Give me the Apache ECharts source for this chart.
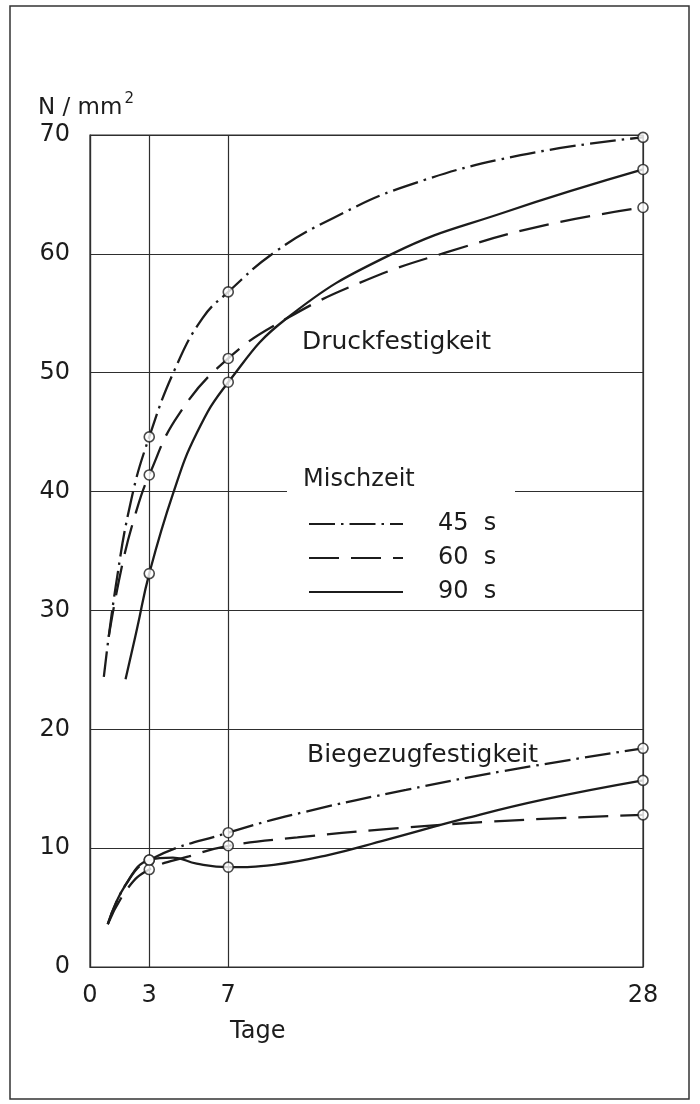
<!DOCTYPE html>
<html>
<head>
<meta charset="utf-8">
<title>Druck- und Biegezugfestigkeit</title>
<script src="https://cdn.jsdelivr.net/npm/echarts@6/dist/echarts.min.js"></script>
<style>
    html, body { margin: 0; padding: 0; background: #fff; }
    #chart { width: 700px; height: 1104px; }
</style>
</head>
<body>
<div id="chart"></div>
<script>
'use strict';

// Mischzeit = Legende
var mischzeit = ['45 s', '60 s', '90 s'];

// Achsen
var tageTicks = [0, 3, 7, 28];
var yTicks = [0, 10, 20, 30, 40, 50, 60, 70];

// Prüftage mit Messpunkt (Kreis)
var tage = [3, 7, 28];

// Druckfestigkeit N/mm2 an den Prüftagen
var druck45 = [44.6, 56.8, 69.8];
var druck60 = [41.4, 51.2, 63.9];
var druck90 = [33.1, 49.2, 67.1];

// Biegezugfestigkeit N/mm2 an den Prüftagen
var biege45 = [9.0, 11.3, 18.4];
var biege60 = [8.2, 10.2, 12.8];
var biege90 = [9.0, 8.4, 15.7];

var druck45Kurve = [[0.7, 24.4], [1.3, 32.0], [2.1, 39.4], [3, 44.6], [4.3, 50.3],
    [5.7, 54.6], [7, 56.8], [9.4, 60.2], [12.3, 63.0], [16, 65.7], [21.8, 68.3], [28, 69.8]];
var druck60Kurve = [[0.95, 27.8], [1.6, 33.6], [2.3, 38.1], [3, 41.4], [4.5, 46.5],
    [7, 51.2], [10, 54.6], [14, 57.8], [18, 60.1], [23, 62.4], [28, 63.9]];
var druck90Kurve = [[1.8, 24.2], [2.4, 28.6], [3, 33.1], [4.2, 39.8], [5.4, 44.9],
    [7, 49.2], [9.9, 54.5], [15.3, 60.0], [21, 63.5], [28, 67.1]];

var biege45Kurve = [[0.9, 3.6], [1.8, 6.9], [3, 9.0], [7, 11.3], [11, 13.1],
    [16, 14.9], [21, 16.5], [28, 18.4]];
var biege60Kurve = [[0.9, 3.6], [1.9, 6.6], [3, 8.2], [5, 9.3], [7, 10.2],
    [10.5, 10.9], [15, 11.6], [21, 12.3], [28, 12.8]];
var biege90Kurve = [[0.9, 3.6], [1.8, 6.9], [3, 9.0], [4.2, 9.2], [5.4, 8.7],
    [7, 8.4], [9.3, 8.6], [12, 9.4], [15, 10.7], [19, 12.5], [23, 14.1], [28, 15.7]];

var schwarz = '#1c1c1c';
var gitter = '#2e2e2e';
var schrift = 'DejaVu Sans';

// Strichart je Mischzeit
var strich = {
    '45 s': [26, 6, 2.5, 6],
    '60 s': [30, 12],
    '90 s': 'solid'
};

function kurve(name, punkte) {
    return {
        type: 'line',
        name: name,
        data: punkte,
        smooth: 0.45,
        symbol: 'none',
        silent: true,
        itemStyle: { color: schwarz },
        lineStyle: { color: schwarz, width: 2.3, type: strich[name] },
        z: 2
    };
}

function messpunkte(werte) {
    return {
        type: 'scatter',
        name: 'Messwert',
        data: tage.map(function (t, i) { return [t, werte[i]]; }),
        symbol: 'circle',
        symbolSize: 10,
        silent: true,
        itemStyle: { color: '#fff', borderColor: schwarz, borderWidth: 1.6 },
        z: 3
    };
}

function text(str, x, y, size) {
    return {
        type: 'text',
        x: x,
        y: y,
        z: 10,
        style: {
            text: str,
            fill: schwarz,
            font: size + 'px "' + schrift + '"',
            textVerticalAlign: 'middle'
        }
    };
}

var myChart = echarts.init(document.getElementById('chart'), null, { renderer: 'canvas' });

myChart.setOption({
    backgroundColor: '#fff',
    animation: false,
    grid: {
        left: 90,
        top: 135,
        width: 553,
        height: 832,
        show: true,
        borderColor: gitter,
        borderWidth: 1.2
    },
    xAxis: {
        type: 'value',
        min: tageTicks[0],
        max: tageTicks[tageTicks.length - 1],
        axisLine: { show: true, lineStyle: { color: gitter, width: 1.2 } },
        axisTick: { show: false, customValues: tageTicks },
        axisLabel: {
            customValues: tageTicks,
            margin: 17,
            fontSize: 24,
            fontFamily: schrift,
            color: schwarz
        },
        splitLine: { show: true, lineStyle: { color: gitter, width: 1.2 } }
    },
    yAxis: {
        type: 'value',
        min: yTicks[0],
        max: yTicks[yTicks.length - 1],
        interval: yTicks[1] - yTicks[0],
        axisLine: { show: true, lineStyle: { color: gitter, width: 1.2 } },
        axisTick: { show: false },
        axisLabel: {
            margin: 20,
            fontSize: 24,
            fontFamily: schrift,
            color: schwarz
        },
        splitLine: { show: true, lineStyle: { color: gitter, width: 1.2 } }
    },
    legend: {
        data: mischzeit,
        orient: 'vertical',
        left: 303,
        top: 507,
        itemWidth: 94,
        itemHeight: 14,
        itemGap: 10,
        selectedMode: false,
        itemStyle: { opacity: 0 },
        lineStyle: { width: 2 },
        formatter: function (name) { return name.replace(' ', '  '); },
        textStyle: {
            fontSize: 24,
            lineHeight: 24,
            fontFamily: schrift,
            color: schwarz,
            padding: [0, 0, 0, 30]
        }
    },
    graphic: [
        // Rahmen
        {
            type: 'rect',
            shape: { x: 10, y: 6, width: 679, height: 1093 },
            style: { fill: null, stroke: '#333', lineWidth: 1.5 },
            z: 10
        },
        // Lücke in der 40er-Linie hinter der Legende
        {
            type: 'rect',
            shape: { x: 287, y: 483, width: 228, height: 12 },
            style: { fill: '#fff' },
            z: 5
        },
        {
            type: 'text',
            x: 38,
            y: 92,
            z: 10,
            style: {
                text: '{a|N / mm}{b|2}',
                rich: {
                    a: { fontSize: 23, fontFamily: schrift, fill: schwarz, verticalAlign: 'bottom', lineHeight: 28 },
                    b: { fontSize: 15, fontFamily: schrift, fill: schwarz, verticalAlign: 'top', lineHeight: 28, padding: [0, 0, 0, 2] }
                }
            }
        },
        text('Druckfestigkeit', 302, 342, 25),
        text('Mischzeit', 303, 480, 24),
        text('Biegezugfestigkeit', 307, 755, 25),
        text('Tage', 230, 1032, 24)
    ],
    series: [
        kurve('45 s', druck45Kurve),
        kurve('60 s', druck60Kurve),
        kurve('90 s', druck90Kurve),
        kurve('45 s', biege45Kurve),
        kurve('60 s', biege60Kurve),
        kurve('90 s', biege90Kurve),
        messpunkte(druck45),
        messpunkte(druck60),
        messpunkte(druck90),
        messpunkte(biege45),
        messpunkte(biege60),
        messpunkte(biege90)
    ]
});
</script>
</body>
</html>
